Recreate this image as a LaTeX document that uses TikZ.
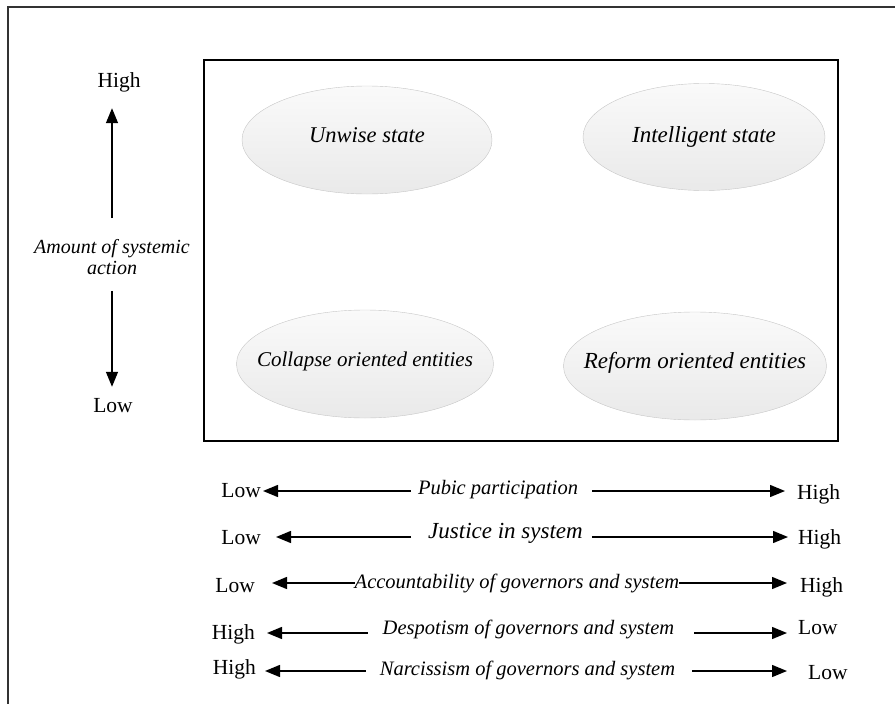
\documentclass[tikz,border=0pt]{standalone}
\usepackage{fontspec}
\setmainfont{Liberation Serif}
\usetikzlibrary{arrows.meta,shapes.geometric}

\begin{document}
\begin{tikzpicture}[x=1pt,y=-1pt,
lvl/.style={inner sep=0pt,text height=15pt,text depth=5pt,font=\fontsize{21.5}{24}\selectfont},
dim/.style={inner sep=0pt,text height=15pt,text depth=5pt,font=\itshape\fontsize{20.5}{22}\selectfont},
dimbig/.style={dim,font=\itshape\fontsize{23}{25}\selectfont},
oval/.style={ellipse,draw=gray!45,top color=gray!4,bottom color=gray!17,inner sep=0pt},
arr/.style={-{Triangle[length=15pt,width=12pt]},line width=1.4pt}]
\useasboundingbox (0,0) rectangle (895,704);

% frame, cut off at the right and at the bottom
\draw[line width=1.3pt,black!80] (8,704) -- (8,7) -- (895,7);
% quadrant box
\draw[line width=1.2pt] (204,60) rectangle (838,441);

% the four states
\node[oval,minimum width=250pt,minimum height=108pt] (unwise) at (367,140) {};
\node[oval,minimum width=242pt,minimum height=107pt] (intel) at (704,137) {};
\node[oval,minimum width=257pt,minimum height=108pt] (collapse) at (365,364) {};
\node[oval,minimum width=263pt,minimum height=108pt] (reform) at (695,366) {};
\node[dim,font=\itshape\fontsize{22.5}{24}\selectfont] (unwiseT) at ([yshift=3pt]unwise) {Unwise state};
\node[dimbig] (intelT) at (intel) {Intelligent state};
\node[dim,font=\itshape\fontsize{21}{23}\selectfont] (collapseT) at ([yshift=3pt]collapse) {Collapse oriented entities};
\node[dimbig] (reformT) at ([yshift=3pt]reform) {Reform oriented entities};

% vertical axis
\node[lvl] (hiAx) at (119,82) {High};
\node[align=center,inner sep=0pt,font=\itshape\fontsize{20}{21}\selectfont] (amount) at (112,257) {Amount of systemic\\action};
\node[lvl] (loAx) at (113,407) {Low};
\draw[arr,shorten <=21pt,shorten >=16pt] (amount.north) -- (amount.north |- hiAx.south);
\draw[arr,shorten <=16pt,shorten >=10pt] (amount.south) -- (amount.south |- loAx.north);

% horizontal scales
\path
(261,492) node [lvl,anchor=east] (lo1) {Low}
(498,489) node [dim] (pub) {Pubic participation}
(797,494) node [lvl,anchor=west] (hi1) {High}
(261,539) node [lvl,anchor=east] (lo2) {Low}
(505.5,533) node [dimbig] (justice) {Justice in system}
(798,539) node [lvl,anchor=west] (hi2) {High}
(255,587) node [lvl,anchor=east] (lo3) {Low}
(517,583) node [dim] (account) {Accountability of governors and system}
(800,587) node [lvl,anchor=west] (hi3) {High}
(255,634) node [lvl,anchor=east] (hi4) {High}
(528.5,629) node [dim] (despot) {Despotism of governors and system}
(798,629) node [lvl,anchor=west] (lo4) {Low}
(256,669) node [lvl,anchor=east] (hi5) {High}
(527.5,670) node [dim] (narc) {Narcissism of governors and system}
(808,674) node [lvl,anchor=west] (lo5) {Low}
;
\coordinate (r1) at (0,491);
\coordinate (r2) at (0,537);
\coordinate (r3) at (0,583);
\coordinate (r4) at (0,633);
\coordinate (r5) at (0,671);

\draw[arr,shorten <=7pt,shorten >=2pt] (pub.west |- r1) -- (lo1.east |- r1);
\draw[arr,shorten <=14pt,shorten >=12pt] (pub.east |- r1) -- (hi1.west |- r1);
\draw[arr,shorten <=17pt,shorten >=15pt] (justice.west |- r2) -- (lo2.east |- r2);
\draw[arr,shorten <=9pt,shorten >=10pt] (justice.east |- r2) -- (hi2.west |- r2);
\draw[arr,shorten >=17pt] (account.west |- r3) -- (lo3.east |- r3);
\draw[arr,shorten >=13pt] (account.east |- r3) -- (hi3.west |- r3);
\draw[arr,shorten <=15pt,shorten >=12pt] (despot.west |- r4) -- (hi4.east |- r4);
\draw[arr,shorten <=20pt,shorten >=11pt] (despot.east |- r4) -- (lo4.west |- r4);
\draw[arr,shorten <=14pt,shorten >=9pt] (narc.west |- r5) -- (hi5.east |- r5);
\draw[arr,shorten <=17pt,shorten >=21pt] (narc.east |- r5) -- (lo5.west |- r5);
\end{tikzpicture}
\end{document}
